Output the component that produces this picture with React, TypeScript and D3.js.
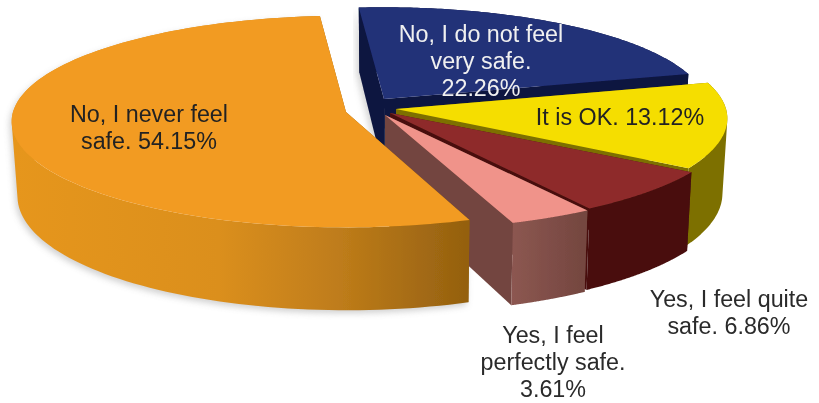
import React from "react";
import * as d3 from "d3";

const categories = ["No, I do not feel very safe.", "It is OK.", "Yes, I feel quite safe.", "Yes, I feel perfectly safe.", "No, I never feel safe."];
const shares = [22.26, 13.12, 6.86, 3.61, 54.15];
const topColors = ["#233178", "#F5DE00", "#8E2C2C", "#F0938A", "#F29B22"];
const sideColors = ["#0D1640", "#7D7000", "#48110E", "#73453F", "#E0911E"];
const labelLines = [
  ["No, I do not feel", "very safe.", "22.26%"],
  ["It is OK. 13.12%"],
  ["Yes, I feel quite", "safe. 6.86%"],
  ["Yes, I feel", "perfectly safe.", "3.61%"],
  ["No, I never feel", "safe. 54.15%"],
];

// layout
const apexX = [384, 396, 390, 385, 346];
const apexY = [99, 109, 113, 115, 112];
const radii = [322, 330, 340, 345, 333];
const radiiY = [100, 105, 105, 105, 105];
const labelX = [481, 620, 729, 553, 149];
const labelY = [42, 125, 307, 343, 122];
const labelFill = ["#F0F0F0", "#222", "#2A2A2A", "#2A2A2A", "#222"];
const K = 0.09, H0 = 74;
const START = (-4.9 * Math.PI) / 180;

type P = [number, number];
const top = (i: number, a: number, f = 1): P => {
  const X = Math.sin(a) * f, Y = -Math.cos(a) * f;
  const s = 1 / (1 - K * Y);
  return [apexX[i] + radii[i] * X * s, apexY[i] + radiiY[i] * Y * s];
};
const bottom = (i: number, a: number, f = 1): P => {
  const [x, y] = top(i, a, f);
  const Y = -Math.cos(a) * f;
  return [400 + (x - 400) * 0.985, y + H0 * (1 + 0.12 * Y)];
};
const line = d3.line<P>();
const poly = (pts: P[]) => line(pts)! + "Z";
// every quad is wound the same way, so the strip fills across the silhouette
const quad = (pts: P[]) => poly(d3.polygonArea(pts) < 0 ? [...pts].reverse() : pts);

const pie = d3.pie<number>().sort(null).startAngle(START).endAngle(START + 2 * Math.PI);
const arcs = pie(shares);

export default function App() {
  const pieces = arcs.map((d, i) => {
    const n = 120;
    const as = d3.range(n + 1).map((k) => d.startAngle + ((d.endAngle - d.startAngle) * k) / n);
    const rimTop = as.map((a) => top(i, a));
    const rimBot = as.map((a) => bottom(i, a));
    const strip = d3.range(n).map((k) => quad([rimTop[k], rimTop[k + 1], rimBot[k + 1], rimBot[k]])).join("");
    return {
      i,
      face: poly([top(i, 0, 0), ...rimTop]),
      rim: strip,
      startWall: poly([top(i, 0, 0), rimTop[0], rimBot[0], bottom(i, 0, 0)]),
      endWall: poly([top(i, 0, 0), rimTop[n], rimBot[n], bottom(i, 0, 0)]),
    };
  });
  const orange = pieces[4];
  const rimFill = (i: number) => (i === 4 ? "url(#orangeRim)" : i === 3 ? "url(#pinkRim)" : sideColors[i]);
  return (
    <svg width={819} height={403} style={{ position: "absolute", left: 0, top: 0, background: "#fff" }}>
      <defs>
        <linearGradient id="orangeRim" gradientUnits="userSpaceOnUse" x1={14} x2={468} y1={0} y2={0}>
          <stop offset="0" stopColor="#E6961F" />
          <stop offset="0.45" stopColor="#DB8F1F" />
          <stop offset="0.72" stopColor="#BE7C1A" />
          <stop offset="1" stopColor="#94600F" />
        </linearGradient>
        <linearGradient id="pinkRim" gradientUnits="userSpaceOnUse" x1={512} x2={585} y1={0} y2={0}>
          <stop offset="0" stopColor="#8C5751" />
          <stop offset="1" stopColor="#74463F" />
        </linearGradient>
        <filter id="shadow" x="-10%" y="-10%" width="120%" height="120%">
          <feGaussianBlur stdDeviation="3" />
        </filter>
        <filter id="soft" x="-5%" y="-5%" width="110%" height="110%">
          <feGaussianBlur stdDeviation="0.5" />
        </filter>
        <filter id="softText" x="-5%" y="-5%" width="110%" height="110%">
          <feGaussianBlur stdDeviation="0.35" />
        </filter>
      </defs>
      <path d={orange.rim} fill="#999" opacity={0.45} filter="url(#shadow)" transform="translate(-2,3)" />
      <path d={pieces[0].startWall} fill="#999" opacity={0.4} filter="url(#shadow)" transform="translate(-3,2)" />
      <g filter="url(#soft)">
        {pieces.map((p) => (
          <g key={p.i}>
            <path d={p.startWall} fill={p.i === 4 ? "#94600F" : sideColors[p.i]} />
            <path d={p.endWall} fill={p.i === 4 ? "#94600F" : sideColors[p.i]} />
            <path d={p.rim} fill={rimFill(p.i)} />
            <path d={p.face} fill={topColors[p.i]} />
          </g>
        ))}
      </g>
      <g fontFamily="'Liberation Sans', Arial, sans-serif" fontSize={23.3} textAnchor="middle" filter="url(#softText)">
        {labelLines.map((ls, i) => (
          <text key={i} fill={labelFill[i]} aria-label={categories[i]}>
            {ls.map((t, j) => (
              <tspan key={j} x={labelX[i]} y={labelY[i] + j * 27}>{t}</tspan>
            ))}
          </text>
        ))}
      </g>
    </svg>
  );
}
